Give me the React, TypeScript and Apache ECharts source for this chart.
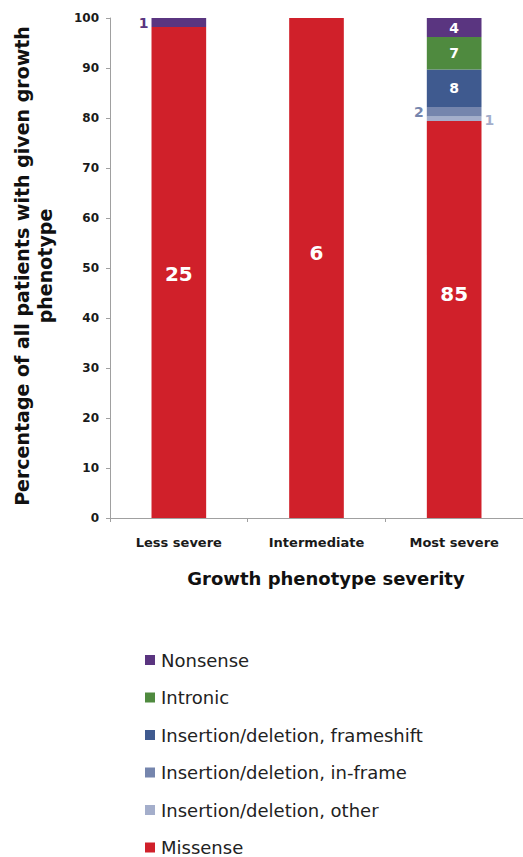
import React, { useEffect, useRef } from "react";
import * as echarts from "echarts";

const categories = ["Less severe", "Intermediate", "Most severe"];
const yTicks = [0, 10, 20, 30, 40, 50, 60, 70, 80, 90, 100];

// Percentages (bar segment heights)
const missensePct = [98.2, 100, 79.4];
const otherPct = [0, 0, 0.9];
const inframePct = [0, 0, 1.9];
const frameshiftPct = [0, 0, 7.5];
const intronicPct = [0, 0, 6.5];
const nonsensePct = [1.8, 0, 3.8];

// Patient counts shown as labels
const missenseN = [25, 6, 85];
const otherN = [0, 0, 1];
const inframeN = [0, 0, 2];
const frameshiftN = [0, 0, 8];
const intronicN = [0, 0, 7];
const nonsenseN = [1, 0, 4];

const FONT = "'DejaVu Sans', 'Liberation Sans', Arial, sans-serif";

const COLORS = {
  missense: "#d0202a",
  other: "#a4aecb",
  inframe: "#7585ad",
  frameshift: "#3f5a8f",
  intronic: "#4f8a3f",
  nonsense: "#5a3580",
};

type LabelMode = "inside" | "left" | "right" | "none";

function buildData(
  pct: number[],
  counts: number[],
  modes: LabelMode[],
  color: string,
  fontSize: number,
  offsets?: number[]
) {
  return pct.map((v, i) => {
    const mode = modes[i];
    if (mode === "none" || counts[i] === 0) {
      return { value: v, label: { show: false } };
    }
    const inside = mode === "inside";
    return {
      value: v,
      label: {
        show: true,
        position: mode,
        distance: 3,
        offset: [0, offsets ? offsets[i] : 0],
        formatter: String(counts[i]),
        color: inside ? "#ffffff" : color,
        fontSize,
        fontWeight: "bold",
        fontFamily: FONT,
      },
    };
  });
}

export default function App() {
  const ref = useRef<HTMLDivElement>(null);

  useEffect(() => {
    if (!ref.current) return;
    const chart = echarts.init(ref.current, undefined, { renderer: "svg" });

    const mk = (name: string, color: string, data: any[]) => ({
      name,
      type: "bar",
      stack: "total",
      barWidth: "39.7%",
      itemStyle: { color },
      emphasis: { disabled: true },
      data,
    });

    chart.setOption({
      animation: false,
      backgroundColor: "#ffffff",
      grid: { left: 110, top: 18, width: 416, height: 500, containLabel: false },
      xAxis: {
        type: "category",
        data: categories,
        boundaryGap: true,
        axisLine: { show: true, lineStyle: { color: "#a0a0a0", width: 1 } },
        axisTick: { show: true, length: 4, alignWithLabel: false, lineStyle: { color: "#a0a0a0" } },
        axisLabel: {
          margin: 18,
          color: "#1a1a1a",
          fontSize: 13,
          fontWeight: "bold",
          fontFamily: FONT,
        },
      },
      yAxis: {
        type: "value",
        min: yTicks[0],
        max: yTicks[yTicks.length - 1],
        interval: 10,
        splitLine: { show: false },
        axisLine: { show: true, lineStyle: { color: "#a0a0a0", width: 1 } },
        axisTick: { show: true, length: 4, lineStyle: { color: "#a0a0a0" } },
        axisLabel: {
          margin: 11,
          color: "#1a1a1a",
          fontSize: 12,
          fontWeight: "bold",
          fontFamily: FONT,
        },
      },
      legend: {
        orient: "vertical",
        left: 140,
        top: 646,
        height: 220,
        itemWidth: 10,
        itemHeight: 10,
        itemGap: 19.5,
        icon: "rect",
        textStyle: {
          fontSize: 18,
          lineHeight: 18,
          color: "#222222",
          fontFamily: FONT,
          padding: [0, 0, 0, 1],
        },
        data: [
          "Nonsense",
          "Intronic",
          "Insertion/deletion, frameshift",
          "Insertion/deletion, in-frame",
          "Insertion/deletion, other",
          "Missense",
        ],
      },
      graphic: [
        {
          type: "text",
          x: 33.5,
          y: 266,
          rotation: Math.PI / 2,
          style: {
            text: "Percentage of all patients with given growth\nphenotype",
            align: "center",
            verticalAlign: "middle",
            fontSize: 19,
            lineHeight: 23,
            fontWeight: "bold",
            fontFamily: FONT,
            fill: "#111111",
          },
        },
        {
          type: "text",
          x: 326,
          y: 578,
          style: {
            text: "Growth phenotype severity",
            align: "center",
            verticalAlign: "middle",
            fontSize: 18,
            fontWeight: "bold",
            fontFamily: FONT,
            fill: "#111111",
          },
        },
      ],
      series: [
        mk(
          "Missense",
          COLORS.missense,
          buildData(missensePct, missenseN, ["inside", "inside", "inside"], COLORS.missense, 20, [1.5, -15, -26])
        ),
        mk(
          "Insertion/deletion, other",
          COLORS.other,
          buildData(otherPct, otherN, ["none", "none", "right"], COLORS.other, 14, [0, 0, 1])
        ),
        mk(
          "Insertion/deletion, in-frame",
          COLORS.inframe,
          buildData(inframePct, inframeN, ["none", "none", "left"], COLORS.inframe, 14)
        ),
        mk(
          "Insertion/deletion, frameshift",
          COLORS.frameshift,
          buildData(frameshiftPct, frameshiftN, ["none", "none", "inside"], COLORS.frameshift, 14)
        ),
        mk(
          "Intronic",
          COLORS.intronic,
          buildData(intronicPct, intronicN, ["none", "none", "inside"], COLORS.intronic, 14)
        ),
        mk(
          "Nonsense",
          COLORS.nonsense,
          buildData(nonsensePct, nonsenseN, ["left", "none", "inside"], COLORS.nonsense, 14)
        ),
      ],
    });

    return () => chart.dispose();
  }, []);

  return (
    <div
      ref={ref}
      style={{ position: "absolute", left: 0, top: 0, width: 523, height: 857 }}
    />
  );
}
